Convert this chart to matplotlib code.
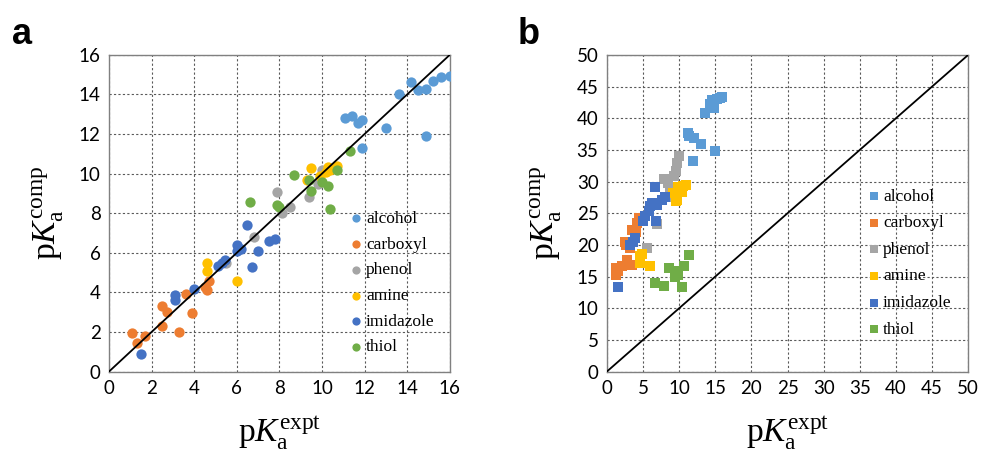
import matplotlib
matplotlib.use("Agg")
import matplotlib.pyplot as plt

# group names and colours (shared by both panels)
groups = ["alcohol", "carboxyl", "phenol", "amine", "imidazole", "thiol"]
colors = ["#5B9BD5", "#ED7D31", "#A5A5A5", "#FFC000", "#4472C4", "#70AD47"]

# panel a: (pKa expt, pKa comp)
a_alcohol_x = [11.1, 11.4, 11.7, 11.9, 11.9, 13.0, 13.6, 14.2, 14.5, 14.9, 14.9, 15.2, 15.6, 16.0]
a_alcohol_y = [12.8, 12.9, 12.55, 12.7, 11.3, 12.3, 14.0, 14.65, 14.2, 14.25, 11.9, 14.7, 14.9, 14.95]
a_carboxyl_x = [1.1, 1.3, 1.7, 2.5, 2.5, 2.7, 3.3, 3.6, 3.9, 4.5, 4.6, 4.7]
a_carboxyl_y = [1.95, 1.45, 1.8, 2.3, 3.3, 3.0, 2.0, 3.9, 2.95, 4.25, 4.1, 4.6]
a_phenol_x = [5.5, 6.8, 7.9, 8.1, 8.5, 9.4, 9.8, 10.0]
a_phenol_y = [5.5, 6.8, 9.05, 8.0, 8.3, 8.8, 9.5, 10.2]
a_amine_x = [4.6, 4.6, 6.0, 9.3, 9.5, 9.9, 10.2, 10.3, 10.4, 10.7]
a_amine_y = [5.5, 5.1, 4.6, 9.7, 10.3, 9.9, 10.1, 10.35, 10.2, 10.4]
a_imid_x = [1.5, 3.1, 3.1, 4.0, 5.1, 5.3, 5.45, 6.0, 6.0, 6.2, 6.5, 6.7, 7.0, 7.5, 7.8]
a_imid_y = [0.9, 3.85, 3.6, 4.15, 5.35, 5.5, 5.65, 6.4, 6.1, 6.2, 7.4, 5.3, 6.1, 6.6, 6.7]
a_thiol_x = [6.6, 7.9, 8.0, 8.7, 9.4, 9.5, 10.0, 10.3, 10.4, 10.7, 11.3]
a_thiol_y = [8.55, 8.4, 8.3, 9.95, 9.7, 9.1, 9.6, 9.4, 8.2, 10.2, 11.15]

# panel b
b_alcohol_x = [11.2, 11.4, 12.0, 13.0, 11.9, 14.9, 13.6, 14.3, 14.8, 14.6, 15.2, 15.6, 15.9]
b_alcohol_y = [37.6, 37.2, 36.8, 35.9, 33.2, 34.8, 40.8, 42.3, 41.6, 42.8, 43.1, 43.2, 43.4]
b_carboxyl_x = [1.2, 1.3, 1.5, 2.1, 2.8, 3.5, 2.5, 2.7, 3.2, 3.5, 4.1, 4.4, 4.0]
b_carboxyl_y = [15.3, 16.3, 15.8, 16.6, 17.6, 16.9, 20.5, 20.0, 19.5, 22.4, 23.4, 24.2, 22.0]
b_phenol_x = [5.5, 6.9, 7.9, 8.5, 8.7, 9.3, 9.5, 9.7, 10.0, 9.0]
b_phenol_y = [19.5, 23.3, 30.4, 29.8, 28.2, 30.8, 31.7, 32.9, 34.0, 27.5]
b_amine_x = [4.6, 4.6, 4.9, 6.0, 9.2, 9.5, 9.7, 9.9, 10.2, 10.4, 10.6, 10.9]
b_amine_y = [18.2, 17.1, 18.5, 16.7, 28.2, 26.9, 27.1, 29.2, 29.0, 28.4, 29.3, 29.5]
b_imid_x = [1.6, 3.2, 3.6, 3.9, 5.0, 5.3, 5.8, 6.0, 6.2, 6.9, 7.6, 8.1, 6.8, 6.6]
b_imid_y = [13.3, 20.0, 20.5, 21.1, 23.8, 24.5, 25.3, 26.1, 26.6, 26.3, 27.1, 27.6, 23.8, 29.2]
b_thiol_x = [6.7, 7.9, 8.6, 9.4, 9.6, 9.9, 9.8, 10.4, 10.7, 11.3]
b_thiol_y = [14.0, 13.5, 16.3, 14.9, 15.2, 15.3, 15.8, 13.3, 16.7, 18.4]

a_data = [(a_alcohol_x, a_alcohol_y), (a_carboxyl_x, a_carboxyl_y), (a_phenol_x, a_phenol_y),
          (a_amine_x, a_amine_y), (a_imid_x, a_imid_y), (a_thiol_x, a_thiol_y)]
b_data = [(b_alcohol_x, b_alcohol_y), (b_carboxyl_x, b_carboxyl_y), (b_phenol_x, b_phenol_y),
          (b_amine_x, b_amine_y), (b_imid_x, b_imid_y), (b_thiol_x, b_thiol_y)]

plt.rcParams["mathtext.fontset"] = "custom"
plt.rcParams["mathtext.rm"] = "Liberation Serif"
plt.rcParams["mathtext.it"] = "Liberation Serif:italic"

fig = plt.figure(figsize=(9.82, 4.61), dpi=100)
ax_a = fig.add_axes([0.111, 0.194, 0.347, 0.687])
ax_b = fig.add_axes([0.618, 0.194, 0.368, 0.687])


def style(ax, lim, step):
    ax.set_xlim(0, lim)
    ax.set_ylim(0, lim)
    ticks = list(range(0, lim + 1, step))
    ax.set_xticks(ticks)
    ax.set_yticks(ticks)
    ax.tick_params(length=0, labelsize=13.5, pad=6)
    for lab in ax.get_xticklabels() + ax.get_yticklabels():
        lab.set_family("Lato")
    ax.grid(True, linestyle=(0, (2, 2)), color="#595959", linewidth=0.8)
    ax.set_axisbelow(True)
    for sp in ax.spines.values():
        sp.set_color("#808080")
        sp.set_linewidth(1.0)
    ax.plot([0, lim], [0, lim], color="black", linewidth=1.3, zorder=4)
    ax.set_xlabel(r"p$K_\mathrm{a}^\mathrm{expt}$", fontsize=24, labelpad=12,
                  family="Liberation Serif")
    ax.set_ylabel(r"p$K_\mathrm{a}^\mathrm{comp}$", fontsize=24, labelpad=9,
                  family="Liberation Serif")


for (x, y), g, c in zip(a_data, groups, colors):
    ax_a.scatter(x, y, s=55, color=c, marker="o", label=g, linewidths=0, zorder=3)
style(ax_a, 16, 2)
ax_a.legend(loc="upper left", bbox_to_anchor=(0.675, 0.535), frameon=False,
            prop={"family": "Liberation Serif", "size": 12.5}, handletextpad=0.05,
            labelspacing=0.55, markerscale=0.8, borderpad=0, handlelength=1.0)

for (x, y), g, c in zip(b_data, groups, colors):
    ax_b.scatter(x, y, s=45, color=c, marker="s", label=g, linewidths=0, zorder=3)
style(ax_b, 50, 5)
ax_b.legend(loc="upper left", bbox_to_anchor=(0.69, 0.605), frameon=False,
            prop={"family": "Liberation Serif", "size": 12.5}, handletextpad=0.05,
            labelspacing=0.6, markerscale=0.95, borderpad=0, handlelength=1.0)

fig.text(0.012, 0.905, "a", fontsize=26, fontweight="bold", family="Liberation Sans")
fig.text(0.527, 0.905, "b", fontsize=26, fontweight="bold", family="Liberation Sans")

fig.savefig("out.png", dpi=100)
